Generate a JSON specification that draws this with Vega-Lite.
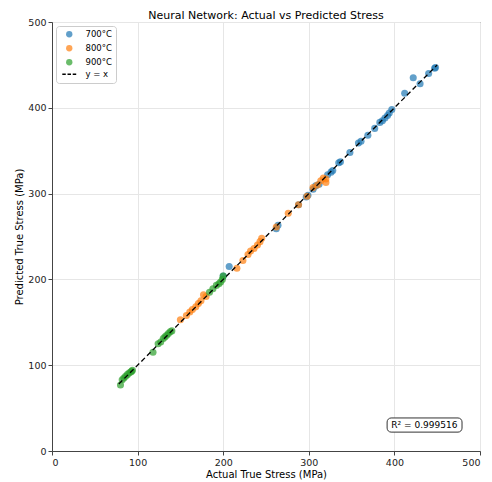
{
  "$schema": "https://vega.github.io/schema/vega-lite/v6.json",
  "autosize": "none",
  "width": 428,
  "height": 429,
  "padding": {"left": 52, "top": 22, "right": 12, "bottom": 31},
  "title": {"text": "Neural Network: Actual vs Predicted Stress", "font": "DejaVu Sans", "fontSize": 11, "fontWeight": "normal", "color": "#000", "offset": -4},
  "config": {
    "font": "DejaVu Sans",
    "view": {"stroke": "#444", "strokeWidth": 1},
    "axis": {"labelFont": "DejaVu Sans", "titleFont": "DejaVu Sans", "labelFontSize": 9.5, "titleFontSize": 10, "titleFontWeight": "normal", "labelColor": "#222", "titleColor": "#000", "tickColor": "#444", "domainColor": "#444", "gridColor": "#e6e6e6", "tickSize": 4}
  },
  "datasets": {
    "pts": [
      {"actual": 200, "predicted": 204, "temp": "700°C"},
      {"actual": 207, "predicted": 215, "temp": "700°C"},
      {"actual": 262, "predicted": 259, "temp": "700°C"},
      {"actual": 264, "predicted": 263, "temp": "700°C"},
      {"actual": 288, "predicted": 287, "temp": "700°C"},
      {"actual": 297, "predicted": 296, "temp": "700°C"},
      {"actual": 299, "predicted": 298, "temp": "700°C"},
      {"actual": 305, "predicted": 305, "temp": "700°C"},
      {"actual": 308, "predicted": 309, "temp": "700°C"},
      {"actual": 312, "predicted": 311, "temp": "700°C"},
      {"actual": 322, "predicted": 322, "temp": "700°C"},
      {"actual": 326, "predicted": 325, "temp": "700°C"},
      {"actual": 328, "predicted": 327, "temp": "700°C"},
      {"actual": 335, "predicted": 336, "temp": "700°C"},
      {"actual": 337, "predicted": 337, "temp": "700°C"},
      {"actual": 348, "predicted": 348, "temp": "700°C"},
      {"actual": 358, "predicted": 359, "temp": "700°C"},
      {"actual": 361, "predicted": 361, "temp": "700°C"},
      {"actual": 369, "predicted": 368, "temp": "700°C"},
      {"actual": 377, "predicted": 376, "temp": "700°C"},
      {"actual": 383, "predicted": 383, "temp": "700°C"},
      {"actual": 386, "predicted": 385, "temp": "700°C"},
      {"actual": 389, "predicted": 388, "temp": "700°C"},
      {"actual": 392, "predicted": 391, "temp": "700°C"},
      {"actual": 394, "predicted": 394, "temp": "700°C"},
      {"actual": 397, "predicted": 398, "temp": "700°C"},
      {"actual": 412, "predicted": 417, "temp": "700°C"},
      {"actual": 422, "predicted": 435, "temp": "700°C"},
      {"actual": 430, "predicted": 428, "temp": "700°C"},
      {"actual": 440, "predicted": 440, "temp": "700°C"},
      {"actual": 447, "predicted": 446, "temp": "700°C"},
      {"actual": 448, "predicted": 447, "temp": "700°C"},
      {"actual": 150, "predicted": 153, "temp": "800°C"},
      {"actual": 157, "predicted": 158, "temp": "800°C"},
      {"actual": 161, "predicted": 162, "temp": "800°C"},
      {"actual": 164, "predicted": 165, "temp": "800°C"},
      {"actual": 168, "predicted": 168, "temp": "800°C"},
      {"actual": 171, "predicted": 172, "temp": "800°C"},
      {"actual": 174, "predicted": 175, "temp": "800°C"},
      {"actual": 177, "predicted": 182, "temp": "800°C"},
      {"actual": 180, "predicted": 180, "temp": "800°C"},
      {"actual": 216, "predicted": 213, "temp": "800°C"},
      {"actual": 223, "predicted": 222, "temp": "800°C"},
      {"actual": 229, "predicted": 229, "temp": "800°C"},
      {"actual": 232, "predicted": 233, "temp": "800°C"},
      {"actual": 236, "predicted": 236, "temp": "800°C"},
      {"actual": 240, "predicted": 240, "temp": "800°C"},
      {"actual": 243, "predicted": 244, "temp": "800°C"},
      {"actual": 245, "predicted": 248, "temp": "800°C"},
      {"actual": 262, "predicted": 261, "temp": "800°C"},
      {"actual": 276, "predicted": 277, "temp": "800°C"},
      {"actual": 288, "predicted": 287, "temp": "800°C"},
      {"actual": 298, "predicted": 297, "temp": "800°C"},
      {"actual": 305, "predicted": 307, "temp": "800°C"},
      {"actual": 310, "predicted": 310, "temp": "800°C"},
      {"actual": 314, "predicted": 315, "temp": "800°C"},
      {"actual": 317, "predicted": 318, "temp": "800°C"},
      {"actual": 320, "predicted": 313, "temp": "800°C"},
      {"actual": 320, "predicted": 317, "temp": "800°C"},
      {"actual": 80, "predicted": 77, "temp": "900°C"},
      {"actual": 82, "predicted": 83, "temp": "900°C"},
      {"actual": 84, "predicted": 85, "temp": "900°C"},
      {"actual": 86, "predicted": 87, "temp": "900°C"},
      {"actual": 88, "predicted": 89, "temp": "900°C"},
      {"actual": 90, "predicted": 91, "temp": "900°C"},
      {"actual": 92, "predicted": 92, "temp": "900°C"},
      {"actual": 93, "predicted": 93, "temp": "900°C"},
      {"actual": 94, "predicted": 94, "temp": "900°C"},
      {"actual": 118, "predicted": 115, "temp": "900°C"},
      {"actual": 124, "predicted": 125, "temp": "900°C"},
      {"actual": 127, "predicted": 127, "temp": "900°C"},
      {"actual": 130, "predicted": 131, "temp": "900°C"},
      {"actual": 132, "predicted": 133, "temp": "900°C"},
      {"actual": 134, "predicted": 135, "temp": "900°C"},
      {"actual": 136, "predicted": 137, "temp": "900°C"},
      {"actual": 138, "predicted": 139, "temp": "900°C"},
      {"actual": 140, "predicted": 140, "temp": "900°C"},
      {"actual": 184, "predicted": 185, "temp": "900°C"},
      {"actual": 188, "predicted": 189, "temp": "900°C"},
      {"actual": 192, "predicted": 193, "temp": "900°C"},
      {"actual": 195, "predicted": 195, "temp": "900°C"},
      {"actual": 197, "predicted": 197, "temp": "900°C"},
      {"actual": 199, "predicted": 200, "temp": "900°C"},
      {"actual": 200, "predicted": 204, "temp": "900°C"}
    ],
    "diag": [
      {"actual": 78, "predicted": 78},
      {"actual": 450, "predicted": 450}
    ],
    "note": [
      {"x1": 391.5, "x2": 479, "y1": 22, "y2": 38.5, "xc": 435, "yc": 30.3, "label": "R² = 0.999516"}
    ]
  },
  "layer": [
    {
      "data": {"name": "pts"},
      "mark": {"type": "point", "filled": true, "opacity": 0.7, "size": 50},
      "encoding": {
        "x": {"field": "actual", "type": "quantitative", "scale": {"domain": [0, 500], "nice": false}, "axis": {"title": "Actual True Stress (MPa)", "values": [0, 100, 200, 300, 400, 500], "titlePadding": 3}},
        "y": {"field": "predicted", "type": "quantitative", "scale": {"domain": [0, 500], "nice": false}, "axis": {"title": "Predicted True Stress (MPa)", "values": [0, 100, 200, 300, 400, 500], "titlePadding": 3}},
        "color": {"field": "temp", "type": "nominal", "scale": {"domain": ["700°C", "800°C", "900°C", "y = x"], "range": ["#1f77b4", "#ff7f0e", "#2ca02c", "#000000"]},
          "legend": {"title": null, "orient": "top-left", "offset": 4, "strokeColor": "#ccc", "fillColor": "white", "padding": 4, "cornerRadius": 3, "labelFontSize": 8.5, "labelFont": "DejaVu Sans", "labelColor": "#000", "rowPadding": 1, "symbolOpacity": 0.7, "symbolSize": 40, "symbolOffset": 5, "labelOffset": 12,
            "encode": {"symbols": {"update": {"stroke": {"signal": "datum.value === 'y = x' ? 'black' : 'transparent'"}, "strokeWidth": {"value": 1.3}, "opacity": {"signal": "datum.value === 'y = x' ? 1 : 0.7"}}}}}},
        "shape": {"field": "temp", "type": "nominal", "scale": {"domain": ["700°C", "800°C", "900°C", "y = x"], "range": ["circle", "circle", "circle", "M-2.2,0H-1.1M-0.55,0H0.55M1.1,0H2.2"]}, "legend": null}
      }
    },
    {
      "data": {"name": "diag"},
      "mark": {"type": "line", "color": "black", "strokeDash": [5, 3], "strokeWidth": 1.3},
      "encoding": {
        "x": {"field": "actual", "type": "quantitative"},
        "y": {"field": "predicted", "type": "quantitative"}
      }
    },
    {
      "data": {"name": "note"},
      "mark": {"type": "rect", "fill": "white", "stroke": "#333", "strokeWidth": 1, "cornerRadius": 4},
      "encoding": {
        "x": {"field": "x1", "type": "quantitative"},
        "x2": {"field": "x2"},
        "y": {"field": "y1", "type": "quantitative"},
        "y2": {"field": "y2"}
      }
    },
    {
      "data": {"name": "note"},
      "mark": {"type": "text", "fontSize": 9, "font": "DejaVu Sans", "color": "#000"},
      "encoding": {
        "x": {"field": "xc", "type": "quantitative"},
        "y": {"field": "yc", "type": "quantitative"},
        "text": {"field": "label"}
      }
    }
  ]
}
